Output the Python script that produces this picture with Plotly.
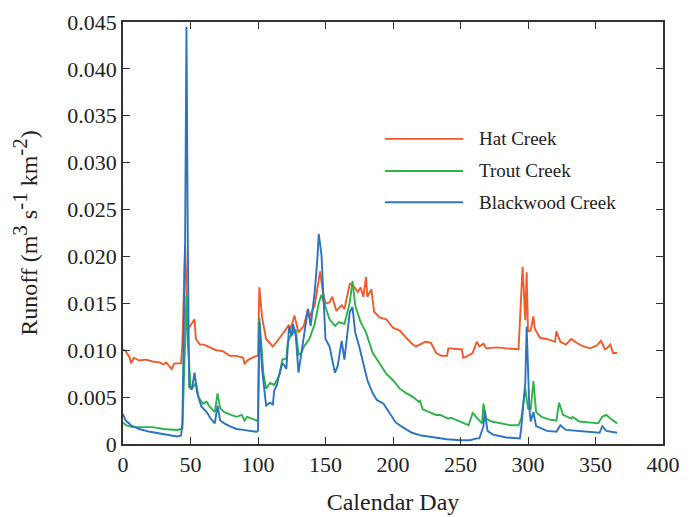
import plotly.graph_objects as go

# --- data (calendar day, runoff m3 s-1 km-2) ---
hat_day = [0, 2, 5, 6, 8, 12, 17, 22, 27, 30, 32, 36, 38, 43, 44, 46, 48, 50, 53, 54,
           57, 60, 64, 69, 74, 79, 84, 89, 90, 93, 99, 100, 101, 103, 106, 111, 116, 118,
           123, 124, 127, 130, 134, 137, 138, 142, 146, 148, 150, 153, 155, 158, 162, 164,
           168, 170, 174, 176, 178, 180, 181, 184, 186, 190, 195, 200, 205, 210, 214, 217,
           221, 224, 228, 232, 236, 240, 241, 243, 248, 251, 252, 254, 259, 262, 264, 267,
           269, 277, 284, 293, 295, 296, 298, 299, 300, 302, 304, 305, 309, 314, 320, 321,
           324, 328, 332, 336, 341, 346, 351, 354, 357, 359, 361, 363, 366]
hat_val = [0.0101, 0.0099, 0.0092, 0.0086, 0.0092, 0.0089, 0.0090, 0.0088, 0.0087, 0.0085,
           0.0087, 0.0080, 0.0086, 0.0086, 0.0108, 0.0212, 0.0122, 0.0126, 0.0133, 0.0112,
           0.0106, 0.0106, 0.0103, 0.0100, 0.0099, 0.0094, 0.0094, 0.0092, 0.0086, 0.0090,
           0.0094, 0.0094, 0.0167, 0.0135, 0.0112, 0.0104, 0.0113, 0.0117, 0.0127, 0.0122,
           0.0137, 0.0119, 0.0126, 0.0144, 0.0135, 0.0148, 0.0184, 0.0162, 0.0150, 0.0151,
           0.0157, 0.0142, 0.0148, 0.0144, 0.0171, 0.0170, 0.0162, 0.0167, 0.0157, 0.0178,
           0.0157, 0.0165, 0.0141, 0.0135, 0.0133, 0.0124, 0.0121, 0.0113, 0.0107, 0.0104,
           0.0107, 0.0109, 0.0108, 0.0097, 0.0094, 0.0094, 0.0102, 0.0102, 0.0101, 0.0101,
           0.0092, 0.0093, 0.0097, 0.0109, 0.0104, 0.0107, 0.0102, 0.0103, 0.0102, 0.0101,
           0.0160, 0.0189, 0.0132, 0.0183, 0.0120, 0.0121, 0.0136, 0.0123, 0.0113, 0.0112,
           0.0109, 0.0120, 0.0109, 0.0106, 0.0112, 0.0108, 0.0104, 0.0102, 0.0105, 0.0110,
           0.0101, 0.0103, 0.0106, 0.0097, 0.0097]

trout_day = [0, 2, 7, 15, 22, 30, 40, 43, 44, 46, 47, 48, 50, 52, 54, 56, 59, 62, 64, 68,
             70, 72, 75, 80, 84, 88, 90, 92, 95, 99, 100, 101, 104, 106, 109, 112, 116, 118,
             121, 122, 124, 127, 128, 130, 132, 134, 138, 142, 145, 147, 149, 153, 157, 160,
             164, 168, 170, 172, 176, 180, 185, 190, 195, 200, 205, 210, 215, 219, 220, 222,
             227, 232, 235, 241, 243, 250, 256, 259, 263, 266, 267, 269, 273, 279, 287, 293,
             295, 298, 300, 302, 304, 306, 310, 316, 321, 323, 326, 332, 333, 338, 346, 352,
             355, 358, 362, 366]
trout_val = [0.0023, 0.0020, 0.0018, 0.0018, 0.0018, 0.0016, 0.0015, 0.0016, 0.0017, 0.0108,
             0.0158, 0.0108, 0.0061, 0.0061, 0.0065, 0.0050, 0.0043, 0.0045, 0.0040, 0.0034,
             0.0054, 0.0038, 0.0034, 0.0031, 0.0029, 0.0031, 0.0025, 0.0029, 0.0027, 0.0025,
             0.0026, 0.0135, 0.0075, 0.0059, 0.0065, 0.0063, 0.0074, 0.0090, 0.0091, 0.0108,
             0.0115, 0.0121, 0.0122, 0.0095, 0.0097, 0.0104, 0.0112, 0.0128, 0.0150, 0.0159,
             0.0151, 0.0133, 0.0126, 0.0130, 0.0128, 0.0151, 0.0174, 0.0148, 0.0130, 0.0119,
             0.0097, 0.0086, 0.0075, 0.0068, 0.0059, 0.0054, 0.0050, 0.0045, 0.0046, 0.0037,
             0.0034, 0.0031, 0.0031, 0.0027, 0.0028, 0.0024, 0.0020, 0.0033, 0.0026, 0.0022,
             0.0043, 0.0027, 0.0024, 0.0022, 0.0020, 0.0020, 0.0027, 0.0059, 0.0038, 0.0037,
             0.0067, 0.0034, 0.0029, 0.0026, 0.0025, 0.0044, 0.0031, 0.0027, 0.0029, 0.0024,
             0.0023, 0.0022, 0.0029, 0.0031, 0.0026, 0.0022]

black_day = [0, 2, 6, 12, 20, 27, 35, 40, 43, 44, 46, 47, 48, 49, 51, 53, 55, 58, 62, 65,
             68, 70, 72, 75, 79, 84, 89, 94, 99, 100, 101, 103, 106, 109, 111, 112, 114, 116,
             118, 120, 121, 123, 125, 126, 128, 130, 133, 137, 139, 142, 144, 145, 147, 149,
             150, 153, 155, 157, 159, 162, 164, 166, 168, 170, 172, 175, 178, 181, 185, 188,
             193, 198, 202, 207, 214, 221, 230, 240, 250, 257, 262, 264, 267, 268, 270, 274,
             284, 294, 295, 298, 299, 301, 302, 304, 306, 314, 321, 324, 328, 336, 343, 353,
             355, 358, 366]
black_val = [0.0032, 0.0025, 0.0020, 0.0016, 0.0013, 0.0011, 0.0009, 0.0008, 0.0009, 0.0022,
             0.0216, 0.0445, 0.0216, 0.0061, 0.0058, 0.0076, 0.0054, 0.0040, 0.0034, 0.0027,
             0.0022, 0.0041, 0.0025, 0.0022, 0.0019, 0.0016, 0.0015, 0.0014, 0.0013, 0.0014,
             0.0130, 0.0080, 0.0041, 0.0044, 0.0042, 0.0057, 0.0063, 0.0076, 0.0086, 0.0083,
             0.0080, 0.0125, 0.0115, 0.0128, 0.0115, 0.0076, 0.0106, 0.0144, 0.0126, 0.0162,
             0.0198, 0.0224, 0.0202, 0.0137, 0.0112, 0.0104, 0.0090, 0.0076, 0.0083, 0.0110,
             0.0090, 0.0119, 0.0141, 0.0146, 0.0119, 0.0104, 0.0086, 0.0068, 0.0054, 0.0047,
             0.0043, 0.0032, 0.0023, 0.0018, 0.0012, 0.0009, 0.0007, 0.0005, 0.0004, 0.0004,
             0.0006, 0.0006, 0.0019, 0.0035, 0.0014, 0.0010, 0.0007, 0.0006, 0.0017, 0.0066,
             0.0125, 0.0038, 0.0024, 0.0034, 0.0019, 0.0014, 0.0013, 0.0020, 0.0015, 0.0014,
             0.0013, 0.0012, 0.0019, 0.0014, 0.0012]

names = ["Hat Creek", "Trout Creek", "Blackwood Creek"]
colors = ["#F15A29", "#2DB34A", "#2B74C0"]

y_ticks = [0, 0.005, 0.010, 0.015, 0.020, 0.025, 0.030, 0.035, 0.040, 0.045]
y_ticktext = ["0", "0.005", "0.010", "0.015", "0.020", "0.025", "0.030", "0.035", "0.040", "0.045"]

FONT = "Liberation Serif, Times New Roman, serif"

fig = go.Figure()
series = [(hat_day, hat_val), (trout_day, trout_val), (black_day, black_val)]
for (d, v), nm, col in zip(series, names, colors):
    fig.add_trace(go.Scatter(x=d, y=v, mode="lines", name=nm,
                             line=dict(color=col, width=1.9)))

# hand-made legend (long line samples like the original)
leg_y = [0.723, 0.647, 0.573]
for nm, col, ly in zip(names, colors, leg_y):
    fig.add_shape(type="line", xref="paper", yref="paper", x0=0.485, x1=0.63,
                  y0=ly, y1=ly, line=dict(color=col, width=1.9))
    fig.add_annotation(xref="paper", yref="paper", x=0.655, y=ly, text=nm,
                       showarrow=False, xanchor="left", yanchor="middle",
                       font=dict(family=FONT, size=19, color="#222"))

axis_common = dict(showline=True, linecolor="#333", linewidth=1.5, mirror="ticks",
                   ticks="inside", ticklen=7, tickwidth=1.3, tickcolor="#333",
                   showgrid=False, zeroline=False, automargin=False,
                   tickfont=dict(family=FONT, size=22, color="#222"))

sup = "<sup><span style='font-size:21px'>%s</span></sup>"
y_title = "Runoff (m" + sup % "3" + " s" + sup % "-1" + " km" + sup % "-2" + ")"

# the page body adds an 8px offset, so margins are set 8px smaller on left/top
fig.update_layout(
    width=694, height=517,
    margin=dict(l=115, r=39, t=14, b=81),
    paper_bgcolor="white", plot_bgcolor="white",
    showlegend=False,
    font=dict(family=FONT, color="#222"),
    xaxis=dict(range=[0, 400], tickvals=list(range(0, 401, 50)),
               title=dict(text="Calendar Day", font=dict(family=FONT, size=24), standoff=17),
               **axis_common),
    yaxis=dict(range=[0, 0.045], tickvals=y_ticks, ticktext=y_ticktext,
               title=dict(text=y_title, font=dict(family=FONT, size=24), standoff=23),
               **axis_common),
)

fig.write_html("out.html")
